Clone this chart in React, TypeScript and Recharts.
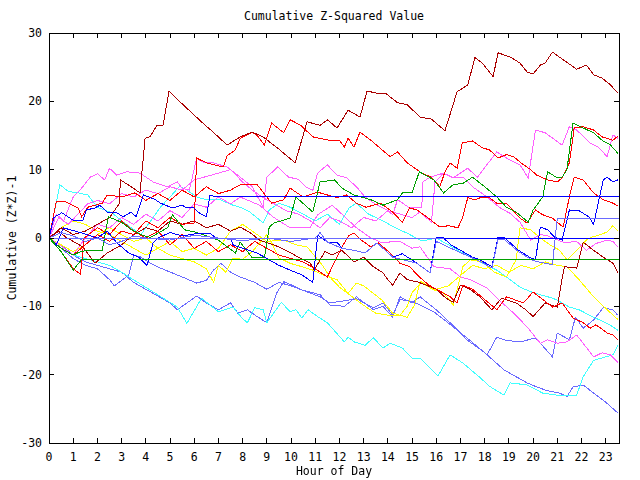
import { LineChart, Line, XAxis, YAxis } from "recharts";

type Pt = [number, number];

// hour of day, cumulative (z*z)-1
const hourTicks = [0, 1, 2, 3, 4, 5, 6, 7, 8, 9, 10, 11, 12, 13, 14, 15, 16, 17, 18, 19, 20, 21, 22, 23];
const valueTicks = [-30, -20, -10, 0, 10, 20, 30];

const darkRedTop: Pt[] = [[0,0],[0.5,1.5],[1,0.5],[1.5,1],[2,2],[2.5,3],[2.9,5],[2.95,8.5],[3.4,7.5],[3.76,6.6],[3.97,14.6],[4.17,14.8],[4.46,16.5],[4.71,16.5],[4.96,21.5],[5.54,19.5],[6.36,16.8],[6.78,15.5],[7.36,13.6],[7.9,14.8],[8.4,15.5],[8.84,14.8],[9.5,13],[10.17,11],[10.66,17],[11.2,16.5],[11.5,17.3],[11.9,16.1],[12.36,18.7],[12.85,17.7],[13.14,21.5],[13.55,21.2],[13.9,21.2],[14.4,19.8],[14.8,19.5],[15.33,17.7],[15.8,17.4],[16.36,15.7],[16.86,21.4],[17.3,22.4],[17.6,26.4],[17.9,25.6],[18.35,23.6],[18.55,27.1],[19.05,26.5],[19.46,25.6],[19.75,24.3],[20,24],[20.3,25.3],[20.5,25.6],[20.8,27.2],[21.24,26.1],[21.8,24.7],[22.2,25.3],[22.5,23.9],[22.85,23.4],[23.2,22.4],[23.5,21.2]];

const redUpper: Pt[] = [[0,0],[0.5,-1.5],[1,-2.5],[1.5,-1],[2,0.5],[2.5,-0.5],[3,1],[3.5,0.5],[4,2.5],[4.5,1.5],[5,3],[5.5,2],[6,2.2],[6.1,11.7],[6.5,11],[7.2,10.4],[7.35,12],[7.7,12.9],[7.9,14.6],[8.4,15.5],[8.6,15],[8.9,13.6],[9.2,16.8],[9.7,15.4],[9.96,17.3],[10.4,16.5],[10.9,14.8],[11.6,14.3],[12,14.3],[12.2,13.3],[12.36,14.6],[12.6,13.3],[12.85,15.5],[13.3,14.3],[13.76,12.9],[14.1,11.9],[14.4,12.6],[14.8,11],[15.2,10],[15.45,9.4],[15.8,8.9],[16.15,7.5],[16.36,9.7],[16.57,11],[16.86,10.2],[17.07,13.9],[17.5,14.2],[17.9,13.2],[18.2,12.9],[18.55,11.7],[18.9,12.2],[19.2,11.9],[19.5,11],[19.9,10],[20.15,9.2],[20.6,8.5],[21,8.2],[21.2,8.8],[21.5,11],[21.7,16.1],[22.07,16.3],[22.5,15.8],[22.85,14.8],[23.3,14.3],[23.5,14.9]];

const magentaUpper: Pt[] = [[0,0],[0.3,3.5],[0.6,2.5],[1,6],[1.4,7.5],[1.7,8.9],[2,9.4],[2.3,8.5],[2.5,10.2],[2.8,9.2],[3.2,9.7],[3.76,9.5],[4.3,8.2],[4.9,7.5],[5.3,8.2],[5.5,7.3],[5.8,7],[6.1,11.7],[6.36,11.1],[6.78,11],[7.36,10.4],[7.9,8.9],[8.4,7.5],[8.85,4.5],[9,8.9],[9.45,10.4],[9.9,8.9],[10.3,8.6],[10.6,7.5],[10.9,7],[11.1,9.5],[11.5,10.7],[11.9,9.2],[12.3,8.8],[12.7,7.5],[13.06,6],[13.55,4.8],[13.97,4.1],[14.2,3.4],[14.4,5.6],[14.9,4.4],[15.4,4.4],[15.45,8.2],[15.74,8.9],[16.3,9.5],[16.7,8.8],[17.3,10.2],[17.7,8.9],[18.5,12.6],[18.9,11.7],[19.46,10.7],[19.8,8.8],[20.1,15.8],[20.5,15.4],[21.2,13.6],[21.5,16.3],[21.8,15.8],[22.36,13.9],[22.7,13.3],[23.06,11.9],[23.3,15.1],[23.5,14.6]];

const greenWalk: Pt[] = [[0,0],[0.5,-1.5],[1,-2.5],[1.3,-2],[1.6,-1.8],[2.2,-1.8],[2.45,3.1],[3,2.3],[3.4,1.2],[3.85,0.4],[4.2,0.1],[4.9,1.5],[5.1,3.4],[5.6,1.2],[6,0.9],[6.45,0.4],[7,-0.3],[7.7,-2.2],[7.9,-0.6],[8.4,-2.9],[8.9,-2.9],[9.1,1.6],[9.3,2.2],[9.96,2.9],[10.2,6],[10.9,3.8],[11.2,8.2],[11.8,8.5],[12.1,7.3],[12.6,6.3],[13.3,5.6],[13.8,4.8],[14.4,5.6],[14.6,6.6],[15,6.6],[15.3,9.7],[15.9,8.5],[16.3,6.6],[16.7,7.8],[17.1,8],[17.5,8.9],[18,7.5],[18.5,6],[18.9,4.5],[19.3,3.8],[19.8,2.3],[20,4.1],[20.4,6],[20.6,9.7],[21,8.8],[21.2,8.9],[21.4,10],[21.65,16.8],[22.07,16.1],[22.5,15.4],[22.85,14.3],[23.2,13.6],[23.5,12.4]];

const greenFlat: Pt[] = [[0,0],[0.5,-2],[1,-4.7],[1.36,-3.1],[23.55,-3.1]];

const blueFlat: Pt[] = [[0,0],[0.2,3],[0.53,3.7],[1,2.6],[1.4,2.6],[1.55,4.1],[1.9,4.4],[2.1,4.8],[2.4,3.8],[2.8,3.7],[3.06,3.1],[3.4,3.8],[3.6,3.1],[3.9,6.3],[4.4,5.6],[4.6,5.1],[5.1,4.4],[5.5,4.8],[5.7,4.4],[5.95,4.5],[6.2,3.7],[6.5,3.1],[6.65,6.3],[6.8,6.1],[23.55,6.1]];

const blueWalk: Pt[] = [[0,0],[0.3,-1],[0.6,1.5],[0.87,1.2],[1.3,0.8],[2,0],[2.4,1],[2.8,-0.7],[3.3,-2.2],[3.7,-2.8],[4.05,-4],[4.3,-0.7],[4.5,0],[5,0.8],[5.5,0.3],[6,0.6],[6.65,0.7],[6.9,0],[7.5,0],[7.6,-1],[8,-1.5],[8.6,-2.2],[9.5,-4],[9.96,-4.7],[10.45,-5.4],[10.9,-6.5],[11.1,0.4],[11.5,-0.6],[11.9,-0.6],[12.1,-1.5],[12.6,-1.8],[13.06,-2.2],[13.55,-0.7],[14.2,-2.8],[14.6,-2.3],[15.2,-3.7],[15.74,-5.1],[16,0.1],[16.3,0],[16.6,-1],[17.1,-2],[17.5,-2.8],[17.8,-3.2],[18.3,-4.2],[18.55,0.1],[18.8,0.1],[19.4,-1.8],[19.9,-2.9],[20.1,-3.2],[20.3,1.6],[20.6,1.2],[20.9,0.1],[21.2,-0.3],[21.5,4.1],[21.9,4],[22.3,3.1],[22.5,2],[22.9,8.5],[23.06,8.9],[23.3,8.2],[23.5,8.5]];

const slateStep: Pt[] = [[0,0],[0.5,0.8],[1,0.3],[1.5,-0.5],[2,0],[2.5,-1],[3,-0.5],[3.5,0.3],[4,0],[5,-0.3],[6,0.4],[7,0],[8,-0.4],[9,0],[10,-0.5],[11,0],[11.2,0.8],[11.5,-0.6],[12.1,-1.5],[12.6,-1.8],[13.06,-2.2],[13.55,-0.7],[14.2,-2.8],[15.2,-3.7],[15.74,-5.1],[16,-0.5],[16.6,-1.5],[17.1,-2.3],[17.8,-3.4],[18.3,-4.4],[18.55,-0.2],[18.8,-0.2],[19.4,-2],[19.9,-3.1],[20.1,-3.4],[20.8,-3.9],[21,2.9],[23.55,2.9]];

const slateZero: Pt[] = [[0,0],[23.55,0]];
const blueZero: Pt[] = [[16.3,0],[23.55,0]];

const redMid: Pt[] = [[0,0],[0.3,5.3],[0.7,5.3],[1.2,4.4],[1.35,3.1],[1.6,4.5],[2.2,5.1],[2.4,6.3],[3,6],[3.55,6.6],[4,5.5],[4.5,6.5],[5,5.5],[5.5,7],[6,6],[6.5,7.5],[7,6.5],[7.5,7],[7.9,7.8],[8.6,7.8],[9.2,5.1],[9.7,5.6],[9.96,7.3],[10.5,6],[11.1,6.7],[11.9,5.9],[12.3,6.3],[12.7,5.1],[13.1,4.5],[13.7,5.1],[14.2,3.8],[14.6,2.3],[14.9,4.4],[15.2,4.1],[15.6,3.1],[16.15,1.6],[16.5,1.8],[16.9,1.5],[17.1,3.1],[17.3,5.9],[17.6,5.6],[17.9,6],[18.2,5.9],[18.5,5.1],[18.9,5.1],[19.46,2.9],[19.75,2.2],[20.1,4.1],[20.4,3.4],[20.8,2.9],[21.24,1.6],[21.5,6],[21.7,8.9],[22.07,8.5],[22.5,6.6],[22.9,5.6],[23.3,5.1],[23.5,4.7]];

const redLow: Pt[] = [[0,0],[0.5,-2],[1,-4.5],[1.3,-5.3],[1.45,0],[2,1.5],[2.5,0.5],[3,2.5],[3.5,1],[4,0],[4.5,1],[5,-1],[5.5,0.5],[6,-1.5],[6.5,-0.5],[7,-2],[7.5,-1],[8,-2],[8.5,-0.5],[9,-1.5],[9.5,-2.5],[10,-3],[10.5,-3.5],[11,-4.5],[11.5,-5.7],[11.8,-3.5],[12.1,-1.3],[12.4,0.4],[12.6,0.7],[12.9,-0.3],[13.3,-1.3],[13.6,-0.7],[14.1,-2.2],[14.5,-3.7],[14.9,-4.2],[15.3,-5.7],[15.7,-6.9],[16.57,-8.6],[16.86,-9.5],[17.1,-6.9],[17.5,-7.5],[18,-9],[18.5,-10.5],[18.9,-8.6],[19.6,-9.5],[20,-7.9],[20.4,-9],[20.8,-10.1],[21.2,-9.5],[21.65,-11.7],[22.07,-12.4],[22.36,-13.2],[22.6,-12.7],[23.06,-13.9],[23.3,-14.2],[23.5,-14.9]];

const darkRedLow: Pt[] = [[0,0],[0.4,1],[0.7,0.1],[1,-0.5],[1.4,-1.3],[1.9,-3.7],[2.4,-2.2],[3,-1],[3.5,0.5],[4,1.5],[4.5,1],[5,2.5],[5.5,2],[6,2.5],[6.5,1.5],[7,2],[7.5,1],[7.9,1.6],[8.3,0.8],[8.7,-0.3],[9.5,-1.3],[10,-2.2],[10.4,-3],[10.8,-3.7],[10.95,-4.7],[11.4,-2],[11.7,-2.5],[12.1,-1.8],[12.6,-3.5],[13,-2.8],[13.4,-4.2],[13.8,-5.1],[14,-6.1],[14.2,-6.9],[14.5,-5.1],[14.8,-6.1],[15.2,-6.4],[15.6,-6.9],[16,-7.5],[16.4,-8.8],[16.7,-9.4],[17,-6.9],[17.4,-7.5],[17.8,-8.6],[18.3,-10.5],[18.7,-8.8],[19.3,-9.5],[19.7,-10.5],[20,-11.5],[20.5,-9.5],[21,-10.1],[21.2,-5.9],[21.3,-4.2],[21.8,-4.4],[22.07,-0.6],[22.5,-1.8],[22.9,-2.8],[23.3,-3.7],[23.5,-5.1]];

const magentaMid: Pt[] = [[0,0],[0.4,3],[0.8,2],[1.2,3.5],[1.6,5],[2,5.5],[2.5,5],[3,6.5],[3.5,6],[4,7],[4.5,6.5],[5,7.5],[5.5,7],[6,8.5],[6.5,9],[7,9.5],[7.5,10],[8,8.2],[8.4,7],[8.85,5.9],[9.3,5],[9.8,4],[10.3,3.5],[10.8,2.5],[11.2,1.5],[11.6,3],[12,2.5],[12.5,1.5],[13,3],[13.5,2.5],[14,4],[14.5,3.5],[15,3],[15.33,3.8],[15.8,2.3],[15.95,8.2],[16.3,9.5],[16.7,8.8],[17.1,8.9],[17.5,7.5],[18.1,6],[18.6,4.5],[19.05,3.6],[19.46,2.3],[19.9,-0.3],[20.3,0.5],[20.6,0.3],[21.3,-0.7],[21.8,-0.5],[22.2,-1.8],[22.6,-0.8],[23.06,-0.3],[23.3,-0.5],[23.5,-1.3]];

const magentaLow: Pt[] = [[0,0],[0.5,-1.2],[1,-2.5],[1.4,-0.5],[2,2],[2.5,1.5],[3,3],[3.5,2],[4,3.5],[4.5,2.5],[5,4],[5.5,3],[6,5],[6.5,4.5],[7,6],[7.5,5],[7.9,6],[8.7,4.8],[9.25,3.1],[9.96,1.5],[10.8,1.6],[11.1,3.4],[11.7,4.8],[12.1,3.5],[12.7,1.5],[13.3,0],[13.7,-0.6],[14,-0.6],[14.5,-0.5],[15,-1.5],[15.33,-1.3],[15.9,-4.2],[16.57,-4.5],[17,-5.7],[17.4,-6.1],[18.1,-7.3],[18.6,-9.1],[19.2,-11],[19.75,-13],[20.3,-15.4],[20.6,-14.9],[21,-15.4],[21.4,-15.2],[21.8,-14.2],[22.2,-16],[22.5,-17.4],[22.85,-16.8],[23.2,-17.1],[23.5,-18.2]];

const yellowUp: Pt[] = [[0,0],[0.5,-1],[1,-2],[1.5,-1],[2,0.5],[2.5,1.5],[3,0.5],[3.5,-0.5],[4,0],[4.5,-1.5],[5,-2.5],[5.5,-3],[6,-3.5],[6.5,-4.5],[6.8,-6.5],[7,-4],[7.3,-5],[7.6,-3],[8,-3.1],[8.4,-2],[9,0.5],[9.2,-0.7],[9.5,-2.9],[9.96,-3.7],[10.45,-4.2],[10.9,-4.7],[11.3,-5.4],[11.9,-6.1],[12.36,-8.1],[12.7,-6.6],[13,-7],[13.4,-8.1],[13.76,-9.1],[14.2,-11],[14.8,-11.6],[15.1,-9.8],[15.33,-6.4],[15.9,-7.6],[16.3,-8],[16.7,-9.8],[17.1,-4.2],[17.4,-3.2],[17.9,-3.5],[18.4,-5],[18.9,-5.7],[19.3,-3.2],[19.46,1.5],[19.9,1.2],[20.3,0],[20.7,-1],[21.1,-1.8],[21.4,-3.2],[21.9,-1.5],[22.2,-0.3],[22.4,0.1],[22.8,0.5],[23.06,0.9],[23.3,1.8],[23.5,1]];

const yellowDown: Pt[] = [[0,0],[0.5,1.5],[1,2.5],[1.5,2],[2,1],[2.5,0.5],[3,-0.5],[3.5,-1.5],[4,-2.5],[4.5,-1.5],[5,-0.5],[5.5,-2],[6,-1.5],[6.5,-2.5],[7,-1.5],[7.5,1],[8,2],[8.4,1],[9,-0.5],[9.7,-0.3],[10.2,-1],[10.66,-1.3],[11.3,-4],[11.6,-5.7],[12,-7.2],[12.6,-8.8],[13.1,-10.1],[13.5,-11],[14,-11.3],[14.5,-11.3],[14.8,-10],[15,-8],[15.4,-6.4],[15.9,-7.6],[16.5,-7],[17,-5.5],[17.5,-4],[18,-4.5],[18.5,-4],[19,-5],[19.5,-4],[20,-4.5],[20.5,-3.5],[21,-4],[21.4,-4.2],[21.9,-6.1],[22.5,-8.6],[23.06,-10.5],[23.5,-11.9]];

const slateMid: Pt[] = [[0,0],[0.5,-1.5],[1,-3],[1.5,-4],[2,-4.5],[2.5,-6.1],[2.7,-7],[3.3,-5.4],[3.5,-2.5],[3.8,-2.8],[4.2,-3.7],[4.6,-4.4],[5.5,-5.7],[6.1,-6.6],[6.5,-6.2],[6.8,-4.7],[7.1,-3.7],[7.5,-5],[7.9,-5.7],[8.5,-6.5],[9,-7.5],[9.5,-6.5],[10,-7],[10.45,-7.6],[11.2,-8.3],[11.6,-9.8],[12.2,-10],[12.7,-8.6],[13.4,-10.5],[13.8,-10],[14.2,-11.6],[14.5,-8.6],[15,-9.5],[15.33,-8.6],[16,-10.5],[16.6,-12.5],[17.3,-15],[17.9,-16.5],[18.1,-17.1],[18.5,-14.5],[18.9,-15],[19.5,-15.2],[20.1,-14.6],[20.8,-17.4],[21,-13.9],[21.5,-14.9],[21.75,-11.6],[22.07,-13.2],[22.5,-12],[22.9,-10.2],[23.3,-10.5],[23.5,-11.3]];

const slateLow: Pt[] = [[0,0],[0.5,-1],[1,-2.5],[1.5,-3.5],[2,-4],[2.5,-4.5],[3,-5],[3.5,-6.5],[4,-7.5],[4.5,-8.5],[5,-9.5],[5.3,-10.5],[5.7,-9.5],[6.1,-8.5],[6.5,-9.5],[7,-10.5],[7.5,-9.5],[7.8,-11],[8.2,-10.5],[8.6,-11.5],[9,-12.4],[9.4,-8.1],[9.7,-6.4],[10.1,-7],[10.45,-7.6],[11.2,-8.6],[11.6,-9.5],[12.2,-9.2],[12.7,-8.9],[13.4,-10.2],[13.8,-9.5],[14.2,-11.3],[14.5,-9],[15,-9.3],[15.33,-9.8],[15.9,-10.8],[16.7,-13],[17.4,-15],[18.1,-17.1],[18.8,-19.3],[19.75,-21.2],[20.15,-21.8],[20.55,-22.3],[21.1,-22.7],[21.4,-23.2],[21.65,-21.8],[22.07,-21.5],[22.5,-22.7],[23.06,-24.2],[23.5,-25.6]];

const cyanHigh: Pt[] = [[0,0],[0.45,7.8],[0.8,6.8],[1.2,6.6],[1.6,6.3],[2,4.5],[2.6,3.7],[3,2.5],[3.4,1.5],[3.8,0.5],[4.2,2.5],[4.6,4.5],[5,6],[5.4,7.6],[5.7,7],[6.1,6],[6.5,5.6],[7.07,5.6],[7.6,4.8],[7.9,4.5],[8.3,3.8],[8.85,2.2],[9.1,4.1],[9.5,5.1],[9.96,4.5],[10.5,3.5],[11,2.5],[11.5,3.5],[12,2],[12.4,4.4],[12.7,5.1],[13.2,3.5],[13.8,2.5],[14.3,1.5],[14.8,0.7],[15.33,-0.3],[15.6,-0.3],[16,0],[16.5,-1],[17.1,-2.2],[17.8,-3.5],[18.5,-4.7],[19.05,-6.1],[19.46,-7.2],[20,-8],[20.8,-8.8],[21,-9.1],[21.5,-10.1],[21.9,-10.5],[22.5,-11.6],[23.06,-12.5],[23.3,-13],[23.5,-13.5]];

const cyanLow: Pt[] = [[0,0],[0.5,-1.5],[1,-2.5],[1.5,-3],[2,-3.5],[2.5,-4],[3,-5],[3.3,-5.7],[4.4,-8.1],[5.3,-10.1],[5.7,-12.5],[6.3,-8.8],[7,-10.8],[7.6,-10.1],[7.97,-11.7],[8.2,-12.4],[8.5,-10.2],[8.85,-10.5],[9,-12.4],[9.6,-9.4],[9.96,-10.8],[10.2,-10.5],[10.45,-11.7],[10.7,-10.5],[11.1,-11.5],[11.5,-12.4],[12.2,-15.2],[12.36,-14.5],[12.6,-15.2],[13.06,-15.7],[13.4,-14.6],[13.8,-16.1],[14.1,-15.4],[14.6,-16.1],[15,-17.6],[15.33,-17.6],[15.74,-19],[16.07,-20.2],[16.57,-17.1],[17.1,-18.3],[17.8,-20.4],[18.2,-21.7],[18.8,-23],[19.05,-21.2],[19.75,-21.5],[20.4,-22.7],[21.2,-23.1],[21.8,-23],[22.07,-20.3],[22.5,-17.9],[23.3,-17.1],[23.5,-15.7]];

const DARK_RED = "#aa0000";
const RED = "#ff0000";
const MAGENTA = "#ff60ff";
const GREEN = "#00a000";
const BLUE = "#0000ff";
const SLATE = "#6a6aff";
const CYAN = "#40ffff";
const YELLOW = "#ffff00";

const series: { id: string; color: string; points: Pt[] }[] = [
  { id: "slateLow", color: SLATE, points: slateLow },
  { id: "slateMid", color: SLATE, points: slateMid },
  { id: "cyanLow", color: CYAN, points: cyanLow },
  { id: "cyanHigh", color: CYAN, points: cyanHigh },
  { id: "yellowUp", color: YELLOW, points: yellowUp },
  { id: "yellowDown", color: YELLOW, points: yellowDown },
  { id: "magentaLow", color: MAGENTA, points: magentaLow },
  { id: "magentaMid", color: MAGENTA, points: magentaMid },
  { id: "magentaUpper", color: MAGENTA, points: magentaUpper },
  { id: "darkRedLow", color: DARK_RED, points: darkRedLow },
  { id: "redLow", color: RED, points: redLow },
  { id: "redMid", color: RED, points: redMid },
  { id: "redUpper", color: RED, points: redUpper },
  { id: "darkRedTop", color: DARK_RED, points: darkRedTop },
  { id: "greenWalk", color: GREEN, points: greenWalk },
  { id: "blueWalk", color: BLUE, points: blueWalk },
  { id: "blueFlat", color: BLUE, points: blueFlat },
  { id: "slateStep", color: SLATE, points: slateStep },
  { id: "slateZero", color: SLATE, points: slateZero },
  { id: "blueZero", color: BLUE, points: blueZero },
  { id: "greenFlat", color: GREEN, points: greenFlat },
];

const toRows = (pts: Pt[]) => pts.map(([h, v]) => ({ h, v }));

// plot box in page pixels
const LEFT = 49;
const RIGHT = 619;
const TOP = 33;
const BOTTOM = 443;
const FONT = "'DejaVu Sans Mono', 'Liberation Mono', monospace";

const YTick = (props: any) => {
  const { y, payload } = props;
  return (
    <g>
      <text x={LEFT - 7} y={y + 4} textAnchor="end" fontSize={11.5} fontFamily={FONT} fill="#000">
        {payload.value}
      </text>
      <line x1={LEFT} x2={LEFT + 5} y1={y} y2={y} stroke="#000" />
      <line x1={RIGHT - 5} x2={RIGHT} y1={y} y2={y} stroke="#000" />
    </g>
  );
};

const XTick = (props: any) => {
  const { x, payload } = props;
  return (
    <g>
      <text x={x} y={BOTTOM + 18} textAnchor="middle" fontSize={11.5} fontFamily={FONT} fill="#000">
        {payload.value}
      </text>
      <line x1={x} x2={x} y1={BOTTOM} y2={BOTTOM - 5} stroke="#000" />
      <line x1={x} x2={x} y1={TOP} y2={TOP + 5} stroke="#000" />
    </g>
  );
};

export default function App() {
  return (
    <div style={{ position: "fixed", left: 0, top: 0, width: 640, height: 480, background: "#fff", fontFamily: FONT }}>
      <div style={{ position: "absolute", left: 0, width: 668, top: 9, textAlign: "center", fontSize: 11.5, lineHeight: "14px" }}>
        Cumulative Z-Squared Value
      </div>
      <div style={{ shapeRendering: "crispEdges" }}>
        <LineChart width={640} height={480} margin={{ top: TOP, right: 640 - RIGHT, bottom: 0, left: 0 }}>
          <XAxis
            type="number"
            dataKey="h"
            domain={[0, 23.55]}
            ticks={hourTicks}
            interval={0}
            height={480 - BOTTOM}
            axisLine={false}
            tickLine={false}
            tick={(p: any) => <XTick {...p} />}
            allowDataOverflow
          />
          <YAxis
            type="number"
            domain={[-30, 30]}
            ticks={valueTicks}
            interval={0}
            width={LEFT}
            axisLine={false}
            tickLine={false}
            tick={(p: any) => <YTick {...p} />}
            allowDataOverflow
          />
          {series.map((s) => (
            <Line
              key={s.id}
              data={toRows(s.points)}
              dataKey="v"
              type="linear"
              stroke={s.color}
              strokeWidth={1}
              dot={false}
              activeDot={false}
              isAnimationActive={false}
            />
          ))}
        </LineChart>
      </div>
      <div
        style={{
          position: "absolute",
          left: LEFT,
          top: TOP,
          width: RIGHT - LEFT + 1,
          height: BOTTOM - TOP + 1,
          boxSizing: "border-box",
          border: "1px solid #000",
          pointerEvents: "none",
        }}
      />
      <div style={{ position: "absolute", left: 0, width: 668, top: 464, textAlign: "center", fontSize: 11.5, lineHeight: "14px" }}>
        Hour of Day
      </div>
      <div
        style={{
          position: "absolute",
          left: 12,
          top: 238,
          transform: "translate(-50%, -50%) rotate(-90deg)",
          whiteSpace: "nowrap",
          fontSize: 11.5,
          lineHeight: "14px",
        }}
      >
        Cumulative (Z*Z)-1
      </div>
    </div>
  );
}
